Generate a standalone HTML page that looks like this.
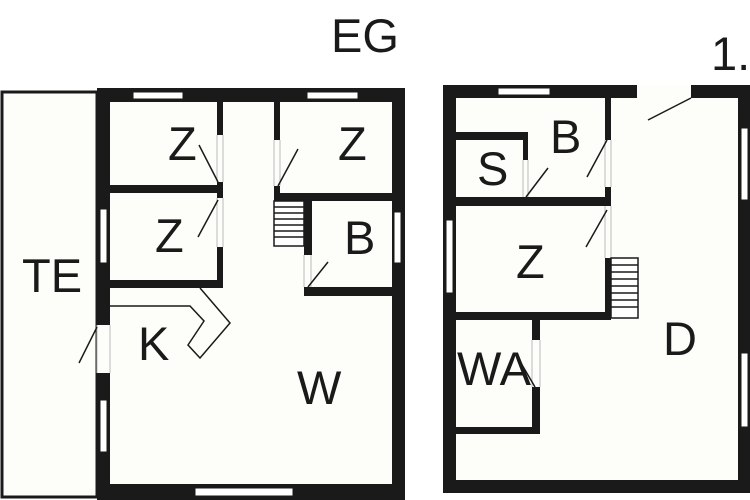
<!DOCTYPE html>
<html><head><meta charset="utf-8"><style>
html,body{margin:0;padding:0;background:#fff;}
svg{display:block;}
text{font-family:"Liberation Sans",sans-serif;fill:#1a1a1a;}
</style></head><body>
<svg width="750" height="500" viewBox="0 0 750 500" xmlns="http://www.w3.org/2000/svg">
<rect width="750" height="500" fill="#fff"/>
<rect x="2" y="92" width="95" height="405" fill="#fdfdf9" stroke="#1a1a1a" stroke-width="3"/>
<rect x="97" y="88" width="308" height="412" fill="#1a1a1a"/>
<rect x="110" y="102" width="282" height="382" fill="#fdfdf9"/>
<g fill="#fff" stroke="#1a1a1a" stroke-width="1">
<rect x="133" y="92" width="50" height="7"/>
<rect x="307" y="92" width="51" height="7"/>
<rect x="100" y="209" width="7" height="54"/>
<rect x="100" y="400" width="7" height="52"/>
<rect x="195" y="488" width="98" height="8"/>
<rect x="394" y="212" width="7" height="51"/>
</g>
<rect x="97" y="325" width="13" height="48" fill="#fdfdf9"/>
<line x1="97" y1="325" x2="97" y2="373" stroke="#bbb" stroke-width="1"/>
<line x1="110" y1="325" x2="110" y2="373" stroke="#bbb" stroke-width="1"/>
<g fill="#1a1a1a">
<rect x="217" y="102" width="6" height="33"/>
<rect x="217" y="182" width="6" height="16"/>
<rect x="217" y="247" width="6" height="41"/>
<rect x="110" y="185" width="113" height="8"/>
<rect x="110" y="280" width="113" height="8"/>
<rect x="274" y="102" width="6" height="38"/>
<rect x="274" y="186" width="6" height="15"/>
<rect x="274" y="193" width="118" height="8"/>
<rect x="304" y="193" width="8" height="62"/>
<rect x="304" y="287" width="88" height="9"/>
</g>
<g stroke="#bbb" stroke-width="1">
<line x1="217" y1="135" x2="217" y2="182"/><line x1="223" y1="135" x2="223" y2="182"/>
<line x1="217" y1="198" x2="217" y2="247"/><line x1="223" y1="198" x2="223" y2="247"/>
<line x1="274" y1="140" x2="274" y2="186"/><line x1="280" y1="140" x2="280" y2="186"/>
<line x1="304" y1="255" x2="304" y2="287"/><line x1="311" y1="255" x2="311" y2="287"/>
</g>
<rect x="274" y="201" width="30" height="45" fill="#fff" stroke="#1a1a1a" stroke-width="1.5"/>
<g stroke="#1a1a1a" stroke-width="1.5">
<line x1="274" y1="207" x2="304" y2="207"/><line x1="274" y1="213" x2="304" y2="213"/>
<line x1="274" y1="219" x2="304" y2="219"/><line x1="274" y1="225" x2="304" y2="225"/>
<line x1="274" y1="231" x2="304" y2="231"/><line x1="274" y1="237" x2="304" y2="237"/>
</g>
<g stroke="#1a1a1a" stroke-width="1.5" fill="none">
<line x1="199" y1="145" x2="218" y2="182"/>
<line x1="198" y1="237" x2="218" y2="200"/>
<line x1="298" y1="149" x2="278" y2="186"/>
<line x1="328" y1="262" x2="308" y2="287"/>
<line x1="97" y1="327" x2="79" y2="363"/>
<polyline points="110,306 190,306 204,321 188,345 200,358 230,323 200,288"/>
</g>
<rect x="443" y="85" width="307" height="408" fill="#1a1a1a"/>
<rect x="456" y="98" width="282" height="382" fill="#fdfdf9"/>
<g fill="#fff" stroke="#1a1a1a" stroke-width="1">
<rect x="498" y="88" width="52" height="7"/>
<rect x="741" y="128" width="7" height="72"/>
<rect x="741" y="353" width="7" height="74"/>
<rect x="446" y="220" width="7" height="73"/>
</g>
<rect x="637" y="85" width="54" height="13" fill="#fdfdf9"/>
<g fill="#1a1a1a">
<rect x="456" y="132" width="72" height="8"/>
<rect x="523" y="132" width="5" height="28"/>
<rect x="456" y="197" width="155" height="9"/>
<rect x="605" y="98" width="6" height="42"/>
<rect x="605" y="187" width="6" height="19"/>
<rect x="605" y="258" width="6" height="62"/>
<rect x="456" y="312" width="155" height="8"/>
<rect x="532" y="320" width="8" height="20"/>
<rect x="532" y="387" width="8" height="47"/>
<rect x="456" y="427" width="84" height="7"/>
</g>
<g stroke="#bbb" stroke-width="1">
<line x1="605" y1="140" x2="605" y2="187"/><line x1="611" y1="140" x2="611" y2="187"/>
<line x1="605" y1="206" x2="605" y2="258"/><line x1="611" y1="206" x2="611" y2="258"/>
<line x1="532" y1="340" x2="532" y2="387"/><line x1="540" y1="340" x2="540" y2="387"/>
<line x1="523" y1="160" x2="523" y2="197"/><line x1="528" y1="160" x2="528" y2="197"/>
</g>
<rect x="611" y="258" width="27" height="60" fill="#fff" stroke="#1a1a1a" stroke-width="1.5"/>
<g stroke="#1a1a1a" stroke-width="1.5">
<line x1="611" y1="265" x2="638" y2="265"/><line x1="611" y1="272" x2="638" y2="272"/>
<line x1="611" y1="279" x2="638" y2="279"/><line x1="611" y1="286" x2="638" y2="286"/>
<line x1="611" y1="293" x2="638" y2="293"/><line x1="611" y1="300" x2="638" y2="300"/>
<line x1="611" y1="307" x2="638" y2="307"/>
</g>
<g stroke="#1a1a1a" stroke-width="1.5">
<line x1="691" y1="98" x2="648" y2="120"/>
<line x1="587" y1="177" x2="607" y2="140"/>
<line x1="548" y1="168" x2="526" y2="197"/>
<line x1="586" y1="247" x2="607" y2="210"/>
<line x1="518" y1="358" x2="535" y2="387"/>
</g>
<g font-size="47">
<text x="331" y="52">EG</text>
<text x="711" y="70">1.</text>
<text x="22" y="292">TE</text>
<text x="168" y="160">Z</text>
<text x="155" y="252">Z</text>
<text x="338" y="160">Z</text>
<text x="344" y="254">B</text>
<text x="138" y="360">K</text>
<text x="297" y="404">W</text>
<text x="477" y="185">S</text>
<text x="550" y="153">B</text>
<text x="516" y="278">Z</text>
<text x="457" y="385">WA</text>
<text x="663" y="355">D</text>
</g>
</svg>
</body></html>
